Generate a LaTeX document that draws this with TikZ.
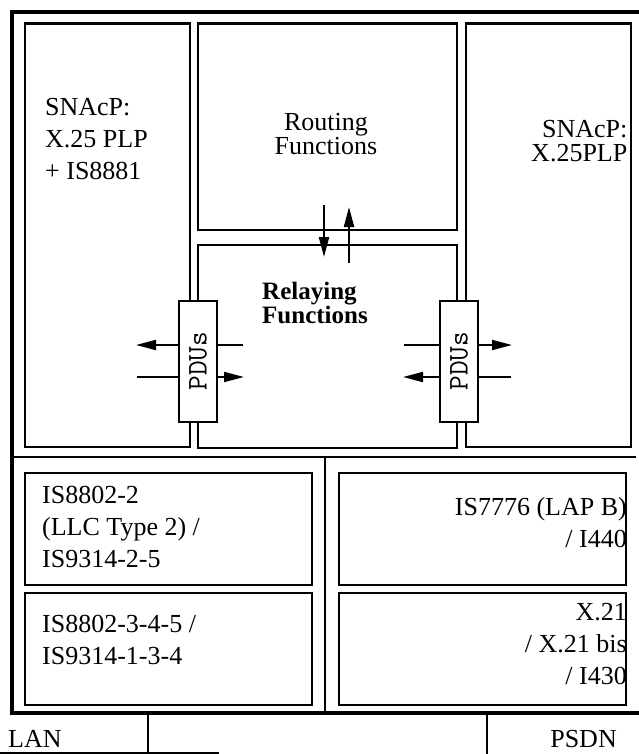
\documentclass[tikz,border=0pt]{standalone}
\usepackage{fontspec}
\setmainfont{Liberation Serif}
\usetikzlibrary{arrows.meta, positioning}

\begin{document}
\begin{tikzpicture}[x=1pt, y=-1pt,
  cell/.style={draw, line width=2.2pt, inner sep=0pt, anchor=north west},
  pdubox/.style={draw, fill=white, line width=2pt, minimum width=37.5pt, minimum height=120.5pt, inner sep=0pt},
  lbl/.style={inner sep=0pt, font=\fontsize{26}{32}\selectfont},
  tightlbl/.style={inner sep=0pt, font=\fontsize{26}{24}\selectfont},
  boldlbl/.style={inner sep=0pt, font=\fontsize{25}{24}\selectfont\bfseries},
  pdulbl/.style={rotate=90, inner sep=0pt, font=\fontsize{28.5}{28.5}\selectfont\ttfamily},
  flow/.style={line width=2pt, -{Triangle[length=20pt, width=10pt]}},
  rule/.style={line width=2.2pt},
]
  \useasboundingbox (0,0) rectangle (639,754);
  \clip (0,0) rectangle (639,754);

  % outer frame and dividers
  \draw[line width=4pt] (12,12) rectangle (660,712.5);
  \draw[rule] (12,457) -- (636,457);
  \draw[rule] (325,457) -- (325,712.5);

  % network layer
  \node[cell, minimum width=165.5pt, minimum height=423.5pt] (snacpL) at (23.5,22.5) {};
  \node[cell, minimum width=259pt, minimum height=206.5pt] (routing) at (197,22.5) {};
  \node[cell, minimum width=259pt, minimum height=202.5pt] (relay) at (197,244) {};
  \node[cell, minimum width=165pt, minimum height=423.5pt] (snacpR) at (465,22.5) {};

  % link and physical layers
  \node[cell, minimum width=287pt, minimum height=112pt] (llc) at (23.5,472) {};
  \node[cell, minimum width=287pt, minimum height=112pt] (mac) at (23.5,592) {};
  \node[cell, minimum width=287pt, minimum height=112pt] (lapb) at (338,472) {};
  \node[cell, minimum width=287pt, minimum height=112pt] (phys) at (338,592) {};

  % labels
  \node[lbl, align=left, anchor=north west] (snacpLtxt) at (45,98) {SNAcP:\\X.25 PLP\\+ IS8881};
  \node[tightlbl, align=center, anchor=north] (routingtxt) at (326,113.5) {Routing\\Functions};
  \node[boldlbl, align=left, anchor=north west] (relaytxt) at (262,282) {Relaying\\Functions};
  \node[tightlbl, align=right, anchor=north east] (snacpRtxt) at (627.5,120.5) {SNAcP:\\X.25PLP};
  \node[lbl, align=left, anchor=north west] (llctxt) at (42,486.5) {IS8802-2\\(LLC Type 2) /\\IS9314-2-5};
  \node[lbl, align=left, anchor=north west] (mactxt) at (42,615) {IS8802-3-4-5 /\\IS9314-1-3-4};
  \node[lbl, align=right, anchor=north east] (lapbtxt) at (627,497.5) {IS7776 (LAP B)\\/ I440};
  \node[lbl, align=right, anchor=north east] (phystxt) at (627,603.5) {X.21\\/ X.21 bis\hspace{0.45em}\\/ I430};

  % routing <-> relaying
  \coordinate (dnA) at (324,205);
  \coordinate (dnB) at (324,257);
  \coordinate (upA) at (349,263);
  \coordinate (upB) at (349,207);
  \draw[flow] (dnA) -- (dnB);
  \draw[flow] (upA) -- (upB);

  % PDU exchange
  \coordinate (lOutA) at (243,345);
  \coordinate (lOutB) at (136,345);
  \coordinate (lInA) at (137,377);
  \coordinate (lInB) at (244,377);
  \coordinate (rOutA) at (404,345);
  \coordinate (rOutB) at (512,345);
  \coordinate (rInA) at (511,377);
  \coordinate (rInB) at (403,377);
  \draw[flow] (lOutA) -- (lOutB);
  \draw[flow] (lInA) -- (lInB);
  \draw[flow] (rOutA) -- (rOutB);
  \draw[flow] (rInA) -- (rInB);

  \node[pdubox] (pduL) at (198,361.3) {};
  \node[pdubox] (pduR) at (459,361.3) {};
  \node[pdulbl] (pduLtxt) at (pduL) {PDUs};
  \node[pdulbl] (pduRtxt) at (pduR) {PDUs};

  % subnetworks
  \coordinate (lanEnd) at (219,752.7);
  \coordinate (lanStart) at (0,752.7);
  \coordinate (lanTap) at (148,714.5);
  \coordinate (psdnTap) at (487,714.5);
  \coordinate (psdnEnd) at (487,754);
  \draw[line width=2pt] (lanStart) -- (lanEnd);
  \draw[line width=2pt] (lanTap) -- (lanTap |- lanEnd);
  \draw[line width=2pt] (psdnTap) -- (psdnEnd);
  \node[lbl, anchor=base west] (lan) at (8,747) {LAN};
  \node[lbl, anchor=base east] (psdn) at (617,747) {PSDN};
\end{tikzpicture}
\end{document}
